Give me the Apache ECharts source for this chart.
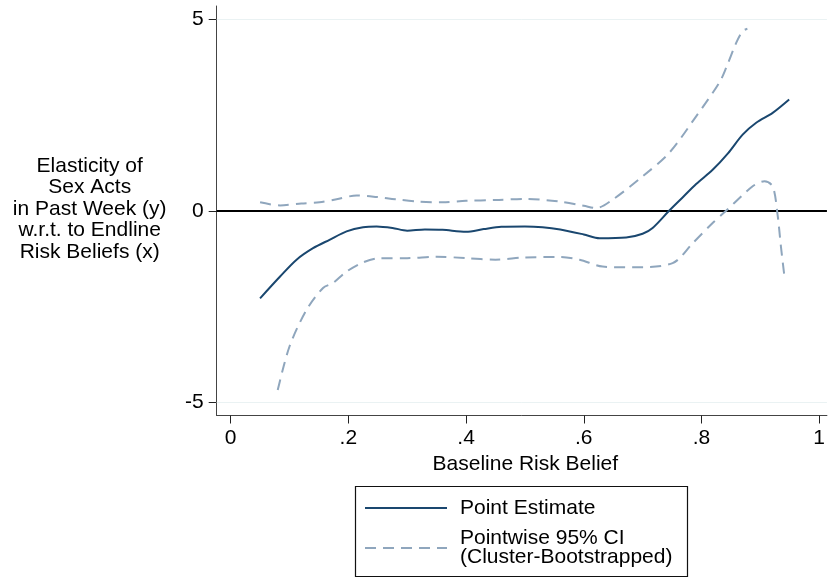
<!DOCTYPE html>
<html>
<head>
<meta charset="utf-8">
<script src="https://cdn.jsdelivr.net/npm/echarts@6/dist/echarts.min.js"></script>
<style>
html,body{margin:0;padding:0;background:#fff;}
#chart{width:828px;height:581px;}
</style>
</head>
<body>
<div id="chart"></div>
<script>
// ---- data ----
var xTicks = [0, 0.2, 0.4, 0.6, 0.8, 1];
var xTickLabels = ['0', '.2', '.4', '.6', '.8', '1'];
var yTicks = [-5, 0, 5];
var yTickLabels = ['-5', '0', '5'];

var pointX = [0.05, 0.084, 0.112, 0.14, 0.168, 0.197, 0.225, 0.248, 0.275, 0.30, 0.33, 0.36, 0.40, 0.43, 0.46, 0.50, 0.53, 0.56, 0.60, 0.627, 0.672, 0.70, 0.717, 0.745, 0.77, 0.791, 0.819, 0.845, 0.870, 0.893, 0.921, 0.949];
var pointY = [-2.29, -1.72, -1.28, -0.98, -0.76, -0.54, -0.43, -0.41, -0.45, -0.52, -0.49, -0.50, -0.55, -0.48, -0.42, -0.41, -0.43, -0.49, -0.62, -0.72, -0.70, -0.60, -0.45, 0.0, 0.38, 0.70, 1.07, 1.50, 1.99, 2.30, 2.56, 2.91];

var upperX = [0.05, 0.084, 0.12, 0.151, 0.18, 0.214, 0.248, 0.28, 0.32, 0.36, 0.40, 0.45, 0.50, 0.559, 0.60, 0.621, 0.649, 0.70, 0.745, 0.791, 0.830, 0.842, 0.859, 0.870, 0.878];
var upperY = [0.22, 0.14, 0.19, 0.22, 0.30, 0.40, 0.36, 0.30, 0.24, 0.22, 0.26, 0.28, 0.31, 0.24, 0.13, 0.07, 0.29, 0.90, 1.51, 2.47, 3.34, 3.74, 4.39, 4.70, 4.76];

var lowerX = [0.08, 0.10, 0.129, 0.157, 0.174, 0.197, 0.225, 0.253, 0.30, 0.35, 0.40, 0.45, 0.50, 0.559, 0.593, 0.632, 0.683, 0.751, 0.785, 0.819, 0.842, 0.887, 0.907, 0.921, 0.929, 0.935, 0.941];
var lowerY = [-4.69, -3.55, -2.59, -2.02, -1.89, -1.59, -1.35, -1.24, -1.24, -1.20, -1.24, -1.28, -1.22, -1.21, -1.28, -1.46, -1.48, -1.37, -0.85, -0.32, 0.0, 0.64, 0.77, 0.64, -0.06, -0.93, -1.72];

var nameEst = 'Point Estimate';
var nameCI = 'Pointwise 95% CI\n(Cluster-Bootstrapped)';
var xTitle = 'Baseline Risk Belief';
var yTitle = 'Elasticity of\nSex Acts\nin Past Week (y)\nw.r.t. to Endline\nRisk Beliefs (x)';

function pairs(xs, ys) { return xs.map(function (x, i) { return [x, ys[i]]; }); }

var FONT = 'Liberation Sans, Arial, sans-serif';
var navy = '#1a476f';
var ciColor = '#8fa6bd';

var legendCommon = {
  orient: 'vertical',
  itemWidth: 82, itemHeight: 14, itemGap: 0,
  padding: 0,
  selectedMode: false,
  itemStyle: {opacity: 0, borderWidth: 0},
  textStyle: {fontSize: 21, lineHeight: 19, color: '#000', fontFamily: FONT, padding: [0, 0, 0, 8]}
};

var chart = echarts.init(document.getElementById('chart'), null, {renderer: 'canvas'});
chart.setOption({
  animation: false,
  backgroundColor: '#fff',
  textStyle: {fontFamily: FONT},
  grid: {left: 216.7, top: 6, right: 0, bottom: 165.5, containLabel: false},
  xAxis: {
    type: 'value',
    min: -0.0237, max: 1.0132,
    name: xTitle,
    nameLocation: 'middle',
    nameGap: 35,
    nameTextStyle: {fontSize: 21, color: '#000', fontFamily: FONT, padding: [0, 0, 0, 7]},
    axisLine: {show: true, onZero: false, lineStyle: {color: '#444', width: 1}},
    axisTick: {show: true, length: 8, customValues: xTicks, lineStyle: {color: '#222', width: 1}},
    axisLabel: {show: true, customValues: xTicks, margin: 12, fontSize: 21, color: '#000', fontFamily: FONT,
      formatter: function (v) { var i = xTicks.indexOf(v); return i >= 0 ? xTickLabels[i] : ''; }},
    splitLine: {show: false}
  },
  yAxis: {
    type: 'value',
    min: -5.355, max: 5.355,
    axisLine: {show: true, onZero: false, lineStyle: {color: '#444', width: 1}},
    axisTick: {show: true, length: 8, customValues: yTicks, lineStyle: {color: '#222', width: 1}},
    axisLabel: {show: true, customValues: yTicks, margin: 13, fontSize: 21, color: '#000', fontFamily: FONT,
      formatter: function (v) { var i = yTicks.indexOf(v); return i >= 0 ? yTickLabels[i] : ''; }},
    splitLine: {show: false}
  },
  legend: [
    Object.assign({}, legendCommon, {left: 364, top: 497.5, data: [nameEst]}),
    Object.assign({}, legendCommon, {left: 364, top: 528, data: [nameCI]})
  ],
  graphic: [
    {
      type: 'text',
      x: 89.7, y: 209,
      style: {
        text: yTitle,
        font: '21px ' + FONT,
        fill: '#000',
        align: 'center',
        verticalAlign: 'middle',
        lineHeight: 21.6
      }
    },
    {
      type: 'rect',
      shape: {x: 355.5, y: 486.5, width: 332, height: 90},
      style: {fill: 'none', stroke: '#111', lineWidth: 1.2},
      silent: true
    }
  ],
  series: [
    {
      type: 'line', name: 'ref', data: [], silent: true,
      markLine: {
        silent: true, symbol: 'none', z: 1, label: {show: false},
        data: [
          {yAxis: 5, lineStyle: {color: '#eaf2f3', width: 1, type: 'solid'}},
          {yAxis: -5, lineStyle: {color: '#eaf2f3', width: 1, type: 'solid'}},
          {yAxis: 0, lineStyle: {color: '#000', width: 2, type: 'solid'}}
        ]
      }
    },
    {
      type: 'line', name: nameCI, data: pairs(upperX, upperY),
      showSymbol: false, symbol: 'none', smooth: 0.3, z: 3,
      lineStyle: {color: ciColor, width: 2, type: [11, 7]}, itemStyle: {color: ciColor}
    },
    {
      type: 'line', name: nameCI, data: pairs(lowerX, lowerY),
      showSymbol: false, symbol: 'none', smooth: 0.3, z: 3,
      lineStyle: {color: ciColor, width: 2, type: [11, 7]}, itemStyle: {color: ciColor}
    },
    {
      type: 'line', name: nameEst, data: pairs(pointX, pointY),
      showSymbol: false, symbol: 'none', smooth: 0.3, z: 4,
      lineStyle: {color: navy, width: 2}, itemStyle: {color: navy}
    }
  ]
});
</script>
</body>
</html>
